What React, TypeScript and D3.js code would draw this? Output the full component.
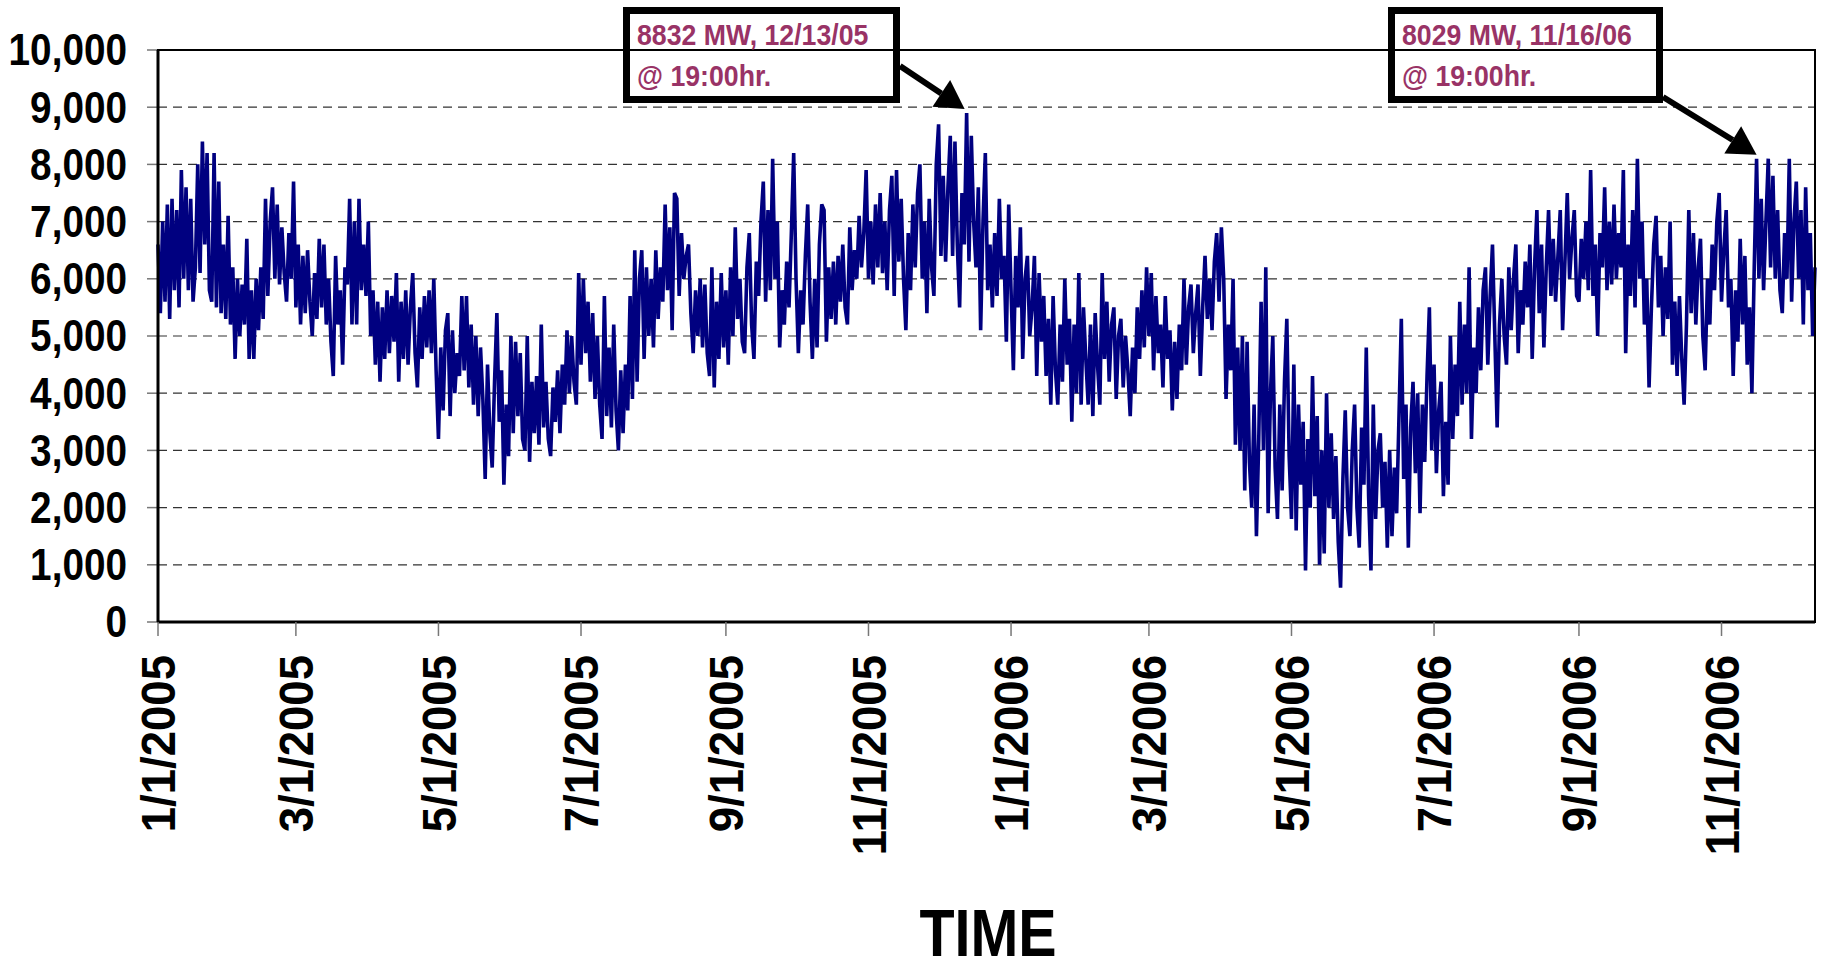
import React from 'react';
import * as d3 from 'd3';

const W = 1827;
const H = 966;

// Daily load readings (hundreds of MW), alternating daily highs/lows
const load2005 = [
  66,54,70,56,73,53,74,58,72,55,
  79,60,76,58,74,56,
  62,80,61,84,66,82,58,
  56,82,55,77,54,
  66,53,71,52,62,46,60,
  50,59,52,67,46,58,46,60,
  51,62,53,
  74,57,70,76,60,
  73,59,69,61,56,68,60,
  77,
  55,66,52,64,54,65,
  56,50,61,53,67,55,66,52,
  60,49,43,64,52,58,45,
  62,59,74,52,70,52,74,58,66,57,
  70,
  50,58,45,56,42,55,
  46,58,47,57,49,61,42,56,46,58,45,55,61,47,41,55,46,57,48,58,47,60,
  44,32,
  48,37,51,54,36,51,40,47,
  43,57,44,57,
  41,52,38,50,36,48,39,25,
  45,33,27,42,54,35,44,24,38,29,
  50,33,49,36,47,
  32,30,50,28,42,
  33,43,31,52,34,42,32,29,41,
  35,44,33,45,38,51,40,50,42,38,
  61,45,60,
  47,56,42,54,39,50,38,32,
  57,
  36,48,34,52,37,30,44,33,45,37,
  57,39,65,
  42,60,65,46,62,50,60,48,65,53,62,
  56,73,58,69,51,75,74,57,68,60,
  64,66,54,47,58,
  50,60,48,59,47,43,62,41,56,46,61,48,
  58,45,62,50,69,53,60,49,47,62,68,52,46,
  63,57,70,77,56,72,58,81,60,70,
  48,58,52,63,55,
  68,82,60,47,
  58,52,64,73,56,46,
  60,48,66,73,72,49,62,
  53,63,52,64,56,66,55,52,69,58,65,
  60,71,62,68,79,
  60,70,59,73,62,75,61,70,58,72,78,57,79,63,74,60,51,
  68,58,73,62,75,80,60,70,
  54,74,62,57,80,87,64,78,63,76,85,64,
  84,66,55,75,
  66,89,63,85,70,62,
  76,51,70,82,58,66,
  55,68,57,74,60,64,49,73,
];

const load2006 = [
  58,
  44,64,55,69,46,60,
  64,50,55,64,43,61,49,57,43,
  53,38,57,44,38,52,42,
  60,45,53,35,
  52,40,61,38,55,46,38,
  52,36,54,45,38,61,46,56,42,52,
  55,39,50,53,41,50,44,36,48,40,
  55,46,58,48,62,50,61,44,57,47,
  52,41,57,46,51,37,49,39,
  52,44,60,45,55,59,47,54,59,43,55,
  64,53,60,51,63,68,56,69,60,
  39,52,44,60,31,
  48,30,50,23,49,28,20,38,15,
  32,56,30,62,19,40,
  50,27,18,38,23,42,53,29,18,45,
  16,38,24,35,9,32,20,
  43,22,36,10,
  30,12,40,20,
  33,18,29,14,6,
  25,37,20,15,30,
  38,20,13,34,24,48,
  22,9,38,18,
  30,33,20,28,13,30,15,27,19,
  36,53,25,38,13,34,42,
  26,40,19,38,28,43,55,30,45,
  26,37,42,22,35,24,50,32,
  45,36,56,38,52,40,62,32,48,
  40,55,44,58,62,45,57,66,50,34,
  52,60,50,45,62,51,60,66,47,58,
  52,63,55,66,46,62,72,54,66,48,62,
  72,57,67,56,64,72,51,63,75,60,67,72,57,
  56,67,60,70,58,79,57,
  66,50,68,62,76,58,70,59,73,60,68,62,
  79,47,66,57,72,55,81,
  60,70,52,60,41,55,
  66,71,55,64,50,62,53,70,45,56,
  43,57,46,38,52,
  72,54,68,52,62,
  67,50,44,60,
  52,66,58,70,75,56,65,72,55,
  60,43,58,49,67,
  52,64,45,55,40,62,
  81,
  60,74,58,70,81,62,78,60,
  72,58,54,68,60,81,
  56,70,77,60,72,52,76,58,68,50,62,
];

const yTicks = [0, 1000, 2000, 3000, 4000, 5000, 6000, 7000, 8000, 9000, 10000];
const xTickLabels = [
  '1/1/2005', '3/1/2005', '5/1/2005', '7/1/2005', '9/1/2005', '11/1/2005',
  '1/1/2006', '3/1/2006', '5/1/2006', '7/1/2006', '9/1/2006', '11/1/2006',
];
const axisTitle = 'TIME';

const peakLabels = [
  ['8832 MW, 12/13/05', '@ 19:00hr.'],
  ['8029 MW, 11/16/06', '@ 19:00hr.'],
];
const peakDates = ['12/13/2005', '11/16/2006'];

const parse = d3.timeParse('%m/%d/%Y');
const startDate = parse('1/1/2005') as Date;
const endDate = parse('12/11/2006') as Date;

const values = [...load2005, ...load2006].map((v) => v * 100);
const series = values.map((v, i) => ({ date: d3.timeDay.offset(startDate, i), value: v }));

const M = { left: 158, right: 1815, top: 50, bottom: 622 };

export default function App() {
  const x = d3.scaleTime().domain([startDate, endDate]).range([M.left, M.right]);
  const y = d3.scaleLinear().domain([0, 10000]).range([M.bottom, M.top]);
  const line = d3
    .line<{ date: Date; value: number }>()
    .x((d) => x(d.date))
    .y((d) => y(d.value));

  const font = "'Liberation Sans', Arial, Helvetica, sans-serif";

  const boxes = [
    { bx: 626.5, by: 10.5, bw: 270, bh: 89, sx: 900, sy: 66, tx: 637, dx: -2, dy: -4 },
    { bx: 1391.5, by: 10.5, bw: 268, bh: 89, sx: 1663, sy: 97, tx: 1402, dx: 0, dy: -4 },
  ];

  return (
    <svg
      width={W}
      height={H}
      style={{ position: 'absolute', left: 0, top: 0, background: '#fff' }}
      fontFamily={font}
    >
      <rect x={0} y={0} width={W} height={H} fill="#fff" />
      {yTicks
        .filter((t) => t > 0 && t < 10000)
        .map((t) => (
          <line
            key={'g' + t}
            x1={M.left}
            x2={M.right}
            y1={y(t)}
            y2={y(t)}
            stroke="#333"
            strokeWidth={1.2}
            strokeDasharray="9,6"
          />
        ))}
      {yTicks.map((t) => (
        <g key={'yt' + t}>
          <line x1={M.left - 11} x2={M.left} y1={y(t)} y2={y(t)} stroke="#777" strokeWidth={1.5} />
          <text
            transform={`translate(127,${y(t)}) scale(0.88,1)`}
            textAnchor="end"
            dominantBaseline="central"
            fontSize={44}
            fontWeight="bold"
            fill="#000"
          >
            {d3.format(',')(t)}
          </text>
        </g>
      ))}
      <path
        d={line(series) || ''}
        fill="none"
        stroke="#000080"
        strokeWidth={3.6}
        strokeLinejoin="miter"
        strokeMiterlimit={3}
      />
      <rect
        x={M.left}
        y={M.top}
        width={M.right - M.left}
        height={M.bottom - M.top}
        fill="none"
        stroke="#000"
        strokeWidth={2}
      />
      <line x1={M.left} x2={M.left} y1={M.top} y2={M.bottom} stroke="#000" strokeWidth={3} />
      <line x1={M.left} x2={M.right} y1={M.bottom} y2={M.bottom} stroke="#000" strokeWidth={3} />
      {xTickLabels.map((lab) => {
        const d = parse(lab) as Date;
        const xx = x(d);
        return (
          <g key={'xt' + lab}>
            <line x1={xx} x2={xx} y1={M.bottom} y2={M.bottom + 14} stroke="#777" strokeWidth={1.5} />
            <text
              transform={`translate(${xx},655) rotate(-90) scale(0.93,1)`}
              textAnchor="end"
              dominantBaseline="central"
              fontSize={49}
              fontWeight="bold"
              fill="#000"
            >
              {lab}
            </text>
          </g>
        );
      })}
      <text
        transform={`translate(988,956) scale(0.87,1)`}
        textAnchor="middle"
        fontSize={66}
        fontWeight="bold"
        fill="#000"
      >
        {axisTitle}
      </text>
      {boxes.map((b, i) => {
        const pd = parse(peakDates[i]) as Date;
        const idx = d3.timeDay.count(startDate, pd);
        const tipX = x(pd) + b.dx;
        const tipY = y(values[idx]) + b.dy;
        const ang = Math.atan2(tipY - b.sy, tipX - b.sx);
        const len = 28;
        const half = 16;
        const baseX = tipX - Math.cos(ang) * len;
        const baseY = tipY - Math.sin(ang) * len;
        const px = -Math.sin(ang) * half;
        const py = Math.cos(ang) * half;
        return (
          <g key={'ann' + i}>
            <rect x={b.bx} y={b.by} width={b.bw} height={b.bh} fill="none" stroke="#000" strokeWidth={7} />
            <line x1={b.sx} y1={b.sy} x2={baseX} y2={baseY} stroke="#000" strokeWidth={6} />
            <polygon
              points={`${tipX},${tipY} ${baseX + px},${baseY + py} ${baseX - px},${baseY - py}`}
              fill="#000"
            />
            {peakLabels[i].map((t, j) => (
              <text
                key={j}
                transform={`translate(${b.tx},${45 + j * 41}) scale(0.92,1)`}
                fontSize={29}
                fontWeight="bold"
                fill="#993366"
              >
                {t}
              </text>
            ))}
          </g>
        );
      })}
    </svg>
  );
}
